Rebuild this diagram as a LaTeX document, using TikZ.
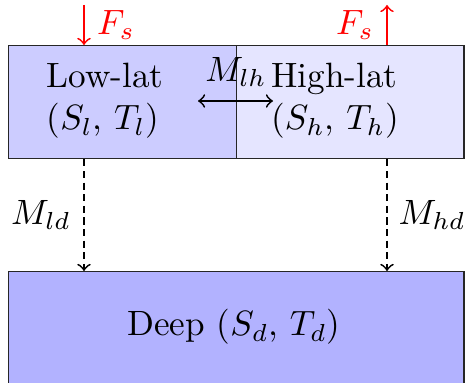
\documentclass[tikz,border=0pt]{standalone}
\begin{document}
\begin{tikzpicture}[x=0.01cm,y=-0.01cm,
  box/.style={draw=black!85,line width=0.4pt,inner sep=0pt,anchor=north west},
  flux/.style={->,red,line width=0.5pt},
  mix/.style={->,dash pattern=on 2pt off 1.3pt,line width=0.5pt}]
\useasboundingbox (0,0) rectangle (465,383);
\node[box,fill=blue!20,minimum width=2.28cm,minimum height=1.13cm] (low) at (8,45) {};
\node[box,fill=blue!10,minimum width=2.27cm,minimum height=1.13cm] (high) at (236,45) {};
\node[box,fill=blue!30,minimum width=4.55cm,minimum height=1.16cm] (deep) at (8,271) {};
\node[align=left] (lowtxt) at (105,101) {Low-lat\\($S_l$, $T_l$)};
\node[align=left] (hightxt) at (335,101) {High-lat\\($S_h$, $T_h$)};
\node (deeptxt) at (234,327) {Deep ($S_d$, $T_d$)};
% top fluxes
\coordinate (fl) at (84,5);
\coordinate (fh) at (387,5);
\draw[flux] (fl) -- (low.north -| fl);
\draw[flux] (high.north -| fh) -- (fh);
\node[red] (fsl) at (116,25) {$F_s$};
\node[red] (fsh) at (355,25) {$F_s$};
% lateral mixing
\coordinate (ml) at (198,101);
\coordinate (mr) at (273,101);
\draw[<->,line width=0.5pt] (ml) -- (mr);
\node (mlh) at (236,72) {$M_{lh}$};
% downward
\coordinate (dl) at (84,200);
\coordinate (dh) at (387,200);
\draw[mix] (low.south -| dl) -- (deep.north -| dl);
\draw[mix] (high.south -| dh) -- (deep.north -| dh);
\node (mld) at (41,215) {$M_{ld}$};
\node (mhd) at (432,215) {$M_{hd}$};
\end{tikzpicture}
\end{document}
